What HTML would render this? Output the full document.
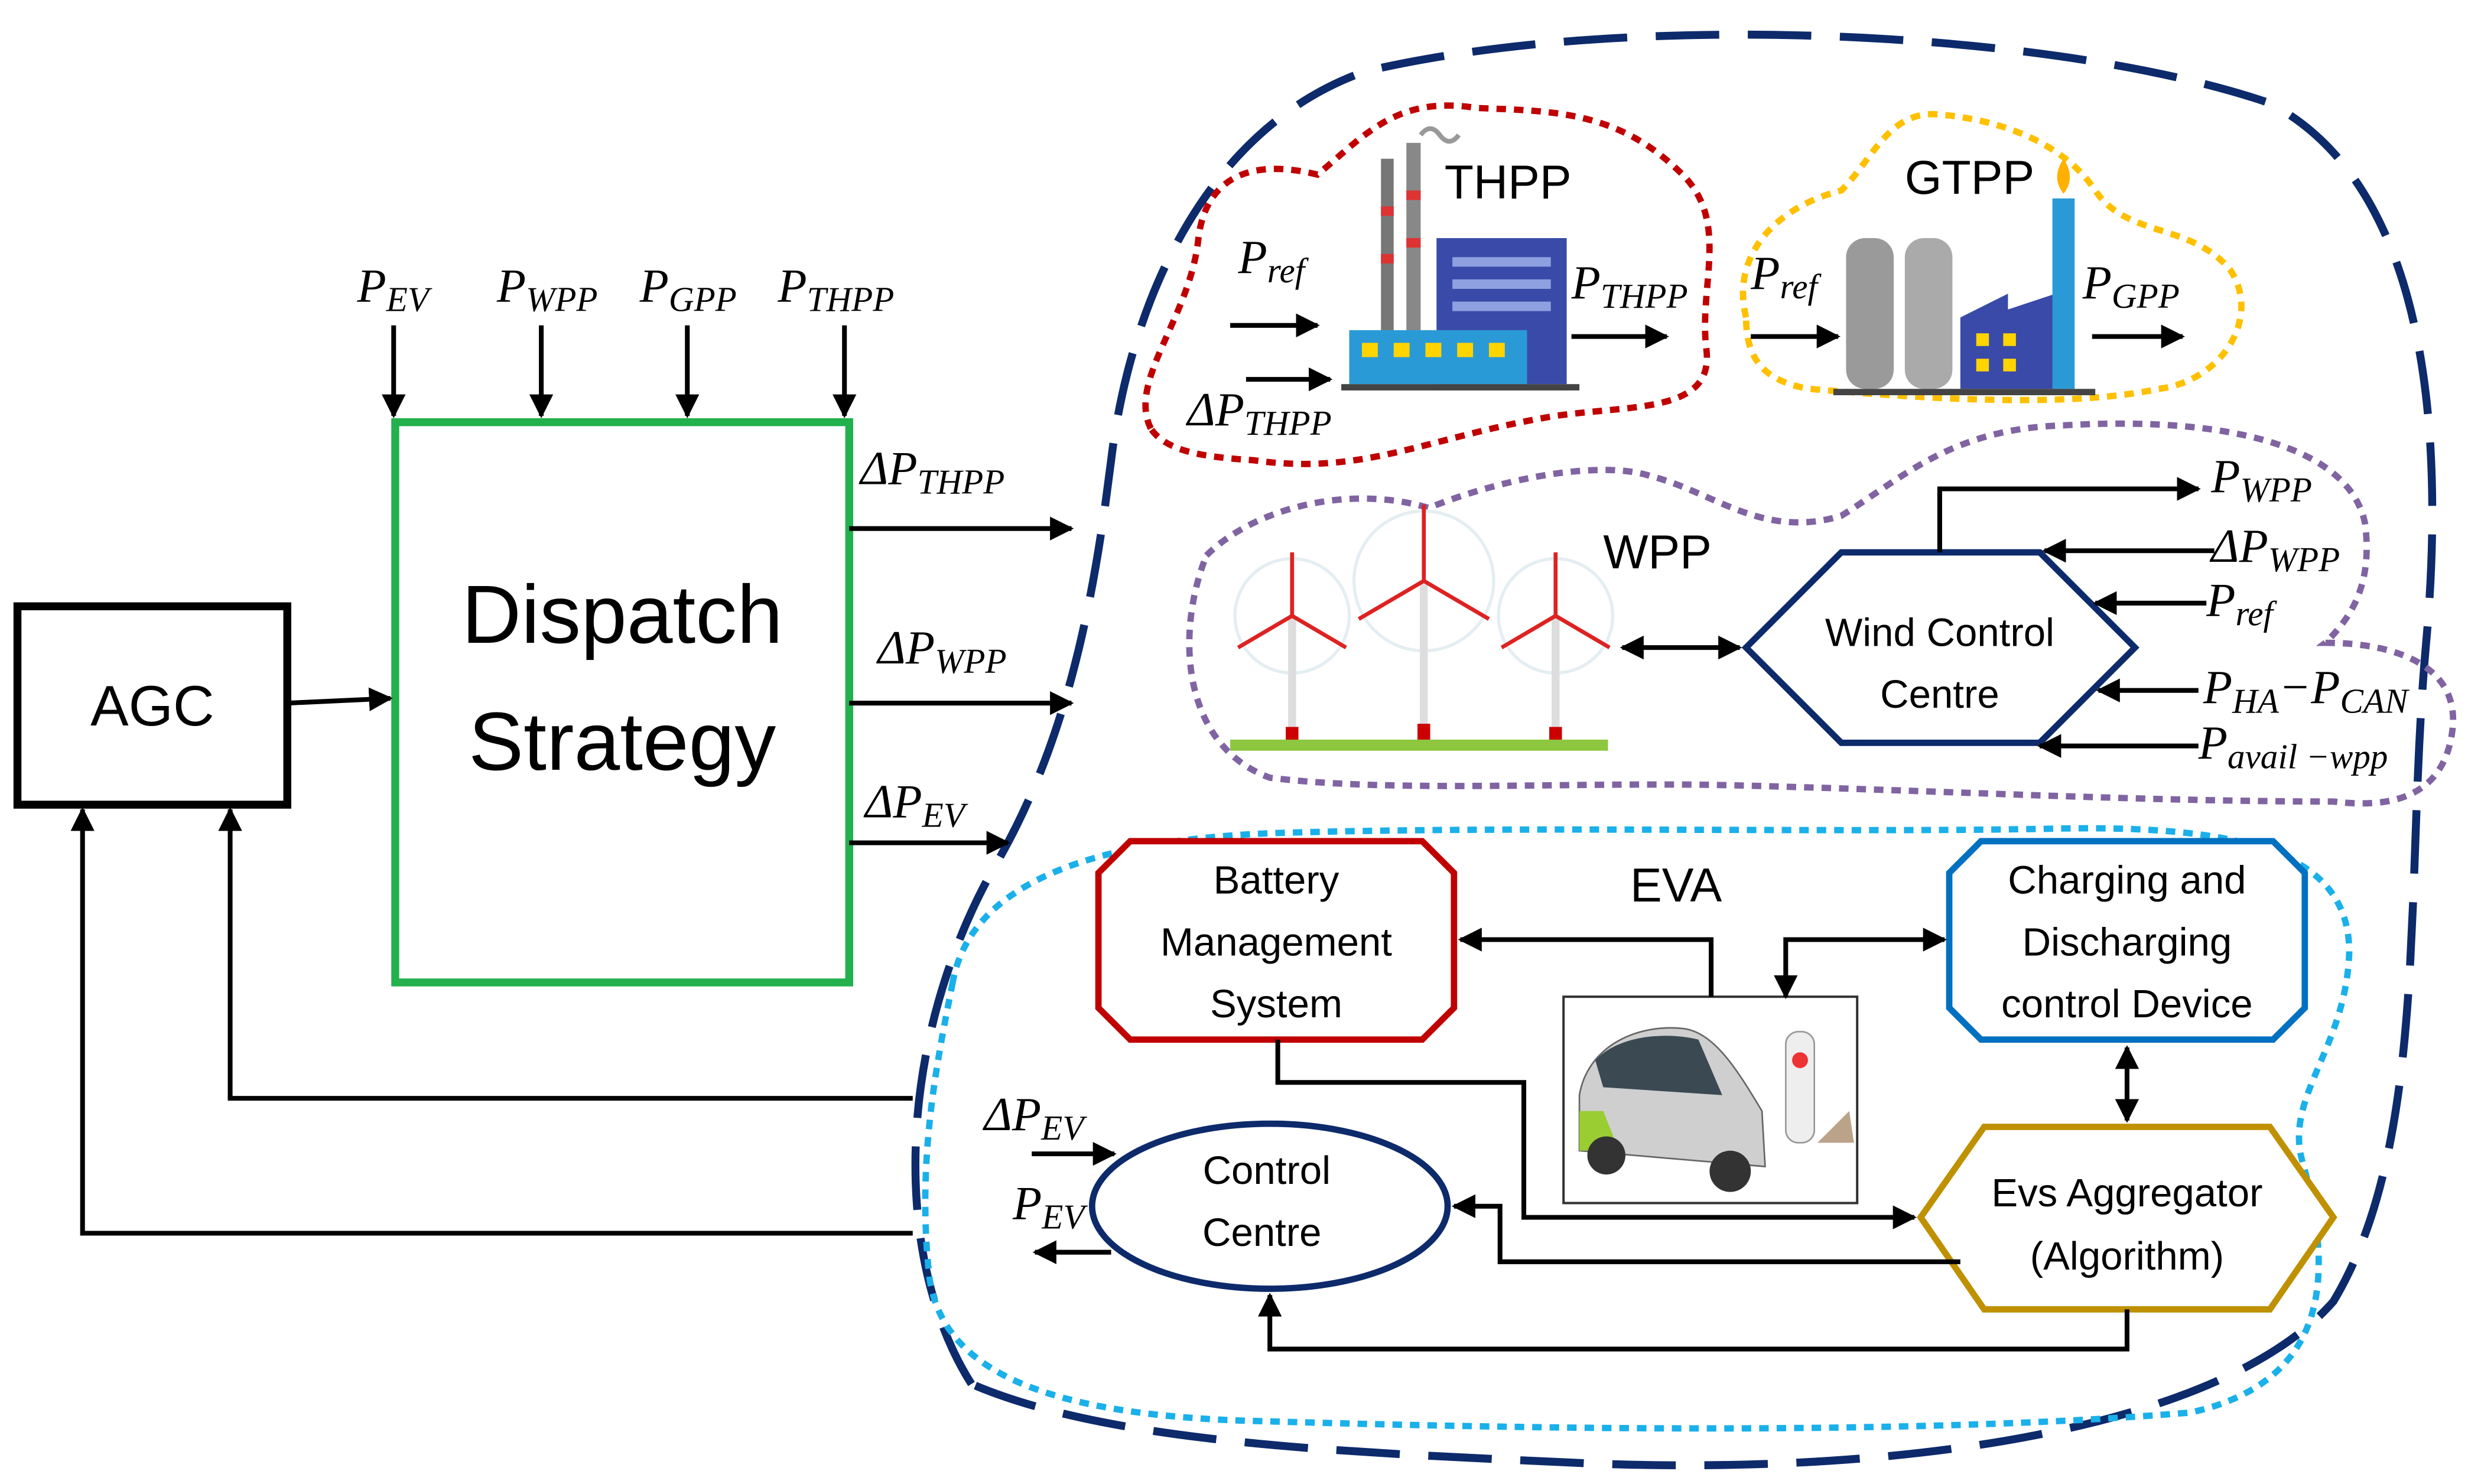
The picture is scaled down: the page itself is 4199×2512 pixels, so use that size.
<!DOCTYPE html>
<html><head><meta charset="utf-8"><style>
html,body{margin:0;padding:0;background:#fff;}
svg{display:block;}
text{font-family:"Liberation Sans",sans-serif;}
.m{font-family:"Liberation Serif",serif;font-style:italic;}
</style></head><body>
<svg width="4199" height="2512" viewBox="0 0 1563 935" xmlns="http://www.w3.org/2000/svg">
<defs>
<marker id="a" viewBox="0 0 10 10" refX="9" refY="5" markerWidth="5" markerHeight="5" orient="auto-start-reverse"><path d="M0,0 L10,5 L0,10 z" fill="#000"/></marker>
</defs>
<rect width="1563" height="935" fill="#fff"/>

<path d="M612,872 C560,790 565,650 630,540 C675,460 690,370 700,290 C712,190 760,80 860,45 C1030,5 1300,20 1430,65 C1525,115 1542,260 1528,410 C1515,560 1530,720 1470,820 C1400,900 1200,930 1000,922 C850,915 700,910 612,872 Z" fill="none" stroke="#0d2a6b" stroke-width="5" stroke-dasharray="40 18"/>

<path d="M725,270 C710,240 750,200 755,150 C760,110 790,100 830,110 C860,85 880,60 930,68 C980,70 1020,70 1060,110 C1090,140 1070,180 1075,220 C1080,260 1030,255 980,262 C900,275 860,300 790,290 C760,288 735,285 725,270 Z" fill="none" stroke="#c00000" stroke-width="4" stroke-dasharray="6 5"/>
<path d="M1100,200 C1090,160 1120,130 1160,120 C1180,100 1190,70 1220,72 C1260,75 1300,90 1320,120 C1340,150 1380,140 1405,170 C1425,200 1400,240 1360,245 C1300,258 1200,250 1140,245 C1110,240 1100,225 1100,200 Z" fill="none" stroke="#ffc000" stroke-width="4" stroke-dasharray="6 5"/>
<path d="M760,350 C790,320 850,305 900,320 C950,300 1010,290 1040,300 C1080,310 1110,340 1160,325 C1200,300 1230,270 1300,268 C1400,262 1480,280 1490,330 C1495,370 1480,390 1465,405 C1510,405 1550,420 1545,460 C1540,500 1510,510 1470,505 C1350,505 1220,498 1100,495 C1000,492 880,500 800,490 C745,470 740,400 760,350 Z" fill="none" stroke="#8064a2" stroke-width="4" stroke-dasharray="6 5"/>
<path d="M600,620 C610,560 680,530 800,525 C950,520 1150,525 1300,522 C1420,520 1480,540 1480,600 C1478,660 1440,690 1450,730 C1470,800 1470,870 1380,890 C1200,905 950,900 780,895 C650,890 590,860 585,800 C578,730 590,670 600,620 Z" fill="none" stroke="#1ab0ea" stroke-width="4" stroke-dasharray="6 5"/>

<rect x="11" y="382" width="170" height="125" fill="#fff" stroke="#000" stroke-width="5"/>
<text x="96" y="457" font-size="36" text-anchor="middle">AGC</text>
<rect x="249" y="266" width="286" height="353" fill="#fff" stroke="#22b14c" stroke-width="5"/>
<text x="392" y="405" font-size="52" text-anchor="middle">Dispatch</text>
<text x="392" y="485" font-size="52" text-anchor="middle">Strategy</text>

<g stroke="#000" stroke-width="3" fill="none" marker-end="url(#a)">
<line x1="248" y1="205" x2="248" y2="262"/>
<line x1="341" y1="205" x2="341" y2="262"/>
<line x1="433" y1="205" x2="433" y2="262"/>
<line x1="532" y1="205" x2="532" y2="262"/>
<line x1="181" y1="443" x2="246" y2="440"/>
<line x1="535" y1="333" x2="675" y2="333"/>
<line x1="535" y1="443" x2="675" y2="443"/>
<line x1="535" y1="531" x2="635" y2="531"/>
<polyline points="575,692 145,692 145,510"/>
<polyline points="575,777 52,777 52,510"/>
</g>
<g font-size="30" class="m">
<text x="225" y="190" class="m">P<tspan font-size="22" dy="6">EV</tspan></text>
<text x="313" y="190" class="m">P<tspan font-size="22" dy="6">WPP</tspan></text>
<text x="403" y="190" class="m">P<tspan font-size="22" dy="6">GPP</tspan></text>
<text x="490" y="190" class="m">P<tspan font-size="22" dy="6">THPP</tspan></text>
<text x="542" y="305" class="m">ΔP<tspan font-size="22" dy="6">THPP</tspan></text>
<text x="553" y="418" class="m">ΔP<tspan font-size="22" dy="6">WPP</tspan></text>
<text x="545" y="515" class="m">ΔP<tspan font-size="22" dy="6">EV</tspan></text>
</g>

<g>
<rect x="870" y="100" width="8" height="110" fill="#777"/><rect x="886" y="90" width="9" height="120" fill="#888"/>
<rect x="870" y="130" width="8" height="6" fill="#d33"/><rect x="886" y="120" width="9" height="6" fill="#d33"/>
<rect x="870" y="160" width="8" height="6" fill="#d33"/><rect x="886" y="150" width="9" height="6" fill="#d33"/>
<rect x="905" y="150" width="82" height="92" fill="#3a4aa8"/>
<rect x="915" y="162" width="62" height="6" fill="#8ea0e0"/><rect x="915" y="176" width="62" height="6" fill="#8ea0e0"/><rect x="915" y="190" width="62" height="6" fill="#8ea0e0"/>
<rect x="850" y="208" width="112" height="34" fill="#2a9ad6"/>
<g fill="#ffd400"><rect x="858" y="216" width="10" height="9"/><rect x="878" y="216" width="10" height="9"/><rect x="898" y="216" width="10" height="9"/><rect x="918" y="216" width="10" height="9"/><rect x="938" y="216" width="10" height="9"/></g>
<rect x="845" y="242" width="150" height="4" fill="#444"/>
<path d="M895,85 q6,-8 12,0 q6,8 12,0" stroke="#999" stroke-width="3" fill="none"/>
</g>
<text x="910" y="125" font-size="30">THPP</text>
<g>
<rect x="1163" y="150" width="30" height="95" rx="12" fill="#9a9a9a"/>
<rect x="1200" y="150" width="30" height="95" rx="12" fill="#aaa"/>
<path d="M1235,245 L1235,200 L1265,185 L1265,195 L1295,185 L1295,245 Z" fill="#3a4aa8"/>
<rect x="1293" y="125" width="14" height="120" fill="#2a9ad6"/>
<path d="M1300,100 q-8,12 0,22 q8,-10 0,-22z" fill="#ffb000"/>
<g fill="#ffd400"><rect x="1245" y="210" width="8" height="8"/><rect x="1262" y="210" width="8" height="8"/><rect x="1245" y="226" width="8" height="8"/><rect x="1262" y="226" width="8" height="8"/></g>
<rect x="1155" y="245" width="165" height="4" fill="#444"/>
</g>
<text x="1200" y="122" font-size="30">GTPP</text>
<g stroke="#000" stroke-width="3" marker-end="url(#a)">
<line x1="775" y1="205" x2="830" y2="205"/>
<line x1="785" y1="239" x2="838" y2="239"/>
<line x1="990" y1="212" x2="1050" y2="212"/>
<line x1="1103" y1="212" x2="1158" y2="212"/>
<line x1="1318" y1="212" x2="1375" y2="212"/>
</g>
<g font-size="30">
<text x="780" y="172" class="m">P<tspan font-size="22" dy="6">ref</tspan></text>
<text x="748" y="268" class="m">ΔP<tspan font-size="22" dy="6">THPP</tspan></text>
<text x="990" y="188" class="m">P<tspan font-size="22" dy="6">THPP</tspan></text>
<text x="1103" y="182" class="m">P<tspan font-size="22" dy="6">ref</tspan></text>
<text x="1312" y="188" class="m">P<tspan font-size="22" dy="6">GPP</tspan></text>
</g>

<g fill="none" stroke="#e4eef2" stroke-width="2">
<circle cx="814" cy="388" r="36"/><circle cx="897" cy="366" r="44"/><circle cx="980" cy="388" r="36"/>
</g>
<rect x="775" y="466" width="238" height="7" fill="#8dc63f"/>
<g stroke="#ddd" stroke-width="5" fill="none">
<line x1="814" y1="388" x2="814" y2="466"/><line x1="897" y1="366" x2="897" y2="466"/><line x1="980" y1="388" x2="980" y2="466"/>
</g>
<g stroke="#d22" stroke-width="2.5">
<line x1="814" y1="388" x2="814" y2="348"/><line x1="814" y1="388" x2="780" y2="408"/><line x1="814" y1="388" x2="848" y2="408"/>
<line x1="897" y1="366" x2="897" y2="318"/><line x1="897" y1="366" x2="856" y2="390"/><line x1="897" y1="366" x2="938" y2="390"/>
<line x1="980" y1="388" x2="980" y2="348"/><line x1="980" y1="388" x2="946" y2="408"/><line x1="980" y1="388" x2="1014" y2="408"/>
</g>
<g fill="#c00"><rect x="810" y="458" width="8" height="8"/><rect x="893" y="456" width="8" height="10"/><rect x="976" y="458" width="8" height="8"/></g>
<text x="1010" y="358" font-size="30">WPP</text>
<polygon points="1100,408 1160,348 1285,348 1345,408 1285,468 1160,468" fill="#fff" stroke="#0d2a6b" stroke-width="4"/>
<text x="1222" y="407" font-size="25" text-anchor="middle">Wind Control</text>
<text x="1222" y="446" font-size="25" text-anchor="middle">Centre</text>
<g stroke="#000" stroke-width="3" fill="none">
<line x1="1022" y1="408" x2="1096" y2="408" marker-start="url(#a)" marker-end="url(#a)"/>
<polyline points="1222,348 1222,308 1385,308" marker-end="url(#a)"/>
<line x1="1395" y1="347" x2="1288" y2="347" marker-end="url(#a)"/>
<line x1="1390" y1="380" x2="1320" y2="380" marker-end="url(#a)"/>
<line x1="1385" y1="435" x2="1322" y2="435" marker-end="url(#a)"/>
<line x1="1385" y1="470" x2="1285" y2="470" marker-end="url(#a)"/>
</g>
<g font-size="30">
<text x="1393" y="310" class="m">P<tspan font-size="22" dy="6">WPP</tspan></text>
<text x="1393" y="354" class="m">ΔP<tspan font-size="22" dy="6">WPP</tspan></text>
<text x="1390" y="388" class="m">P<tspan font-size="22" dy="6">ref</tspan></text>
<text x="1388" y="443" class="m">P<tspan font-size="22" dy="6">HA</tspan><tspan dy="-6">−P</tspan><tspan font-size="22" dy="6">CAN</tspan></text>
<text x="1385" y="478" class="m">P<tspan font-size="22" dy="6">avail −wpp</tspan></text>
</g>

<text x="1027" y="568" font-size="30">EVA</text>
<polygon points="712,530 896,530 916,550 916,635 896,655 712,655 692,635 692,550" fill="#fff" stroke="#c00000" stroke-width="4"/>
<text x="804" y="563" font-size="25" text-anchor="middle">Battery</text>
<text x="804" y="602" font-size="25" text-anchor="middle">Management</text>
<text x="804" y="641" font-size="25" text-anchor="middle">System</text>
<polygon points="1248,530 1432,530 1452,550 1452,635 1432,655 1248,655 1228,635 1228,550" fill="#fff" stroke="#0070c0" stroke-width="4"/>
<text x="1340" y="563" font-size="25" text-anchor="middle">Charging and</text>
<text x="1340" y="602" font-size="25" text-anchor="middle">Discharging</text>
<text x="1340" y="641" font-size="25" text-anchor="middle">control Device</text>
<polygon points="1210,767 1250,710 1430,710 1470,767 1430,825 1250,825" fill="#fff" stroke="#bf9000" stroke-width="4"/>
<text x="1340" y="760" font-size="25" text-anchor="middle">Evs Aggregator</text>
<text x="1340" y="800" font-size="25" text-anchor="middle">(Algorithm)</text>
<ellipse cx="800" cy="760" rx="112" ry="52" fill="#fff" stroke="#0d2a6b" stroke-width="4"/>
<text x="798" y="746" font-size="25" text-anchor="middle">Control</text>
<text x="795" y="785" font-size="25" text-anchor="middle">Centre</text>
<rect x="985" y="628" width="185" height="130" fill="#fff" stroke="#333" stroke-width="1.5"/>
<path d="M995,690 C1000,660 1030,645 1060,648 C1080,650 1095,675 1110,700 L1112,735 L995,725 Z" fill="#cfcfcf" stroke="#666"/>
<path d="M1005,668 C1020,652 1050,650 1070,655 L1085,690 L1010,685 Z" fill="#3b4a52"/>
<path d="M995,700 L1010,700 L1020,725 L995,725 Z" fill="#9acd32"/>
<circle cx="1012" cy="728" r="12" fill="#333"/><circle cx="1090" cy="738" r="13" fill="#333"/>
<rect x="1125" y="650" width="18" height="70" rx="8" fill="#eee" stroke="#999"/>
<circle cx="1134" cy="668" r="5" fill="#e33"/>
<path d="M1145,720 L1165,700 L1168,720 Z" fill="#bba38a"/>
<g stroke="#000" stroke-width="3" fill="none">
<polyline points="1078,628 1078,592 920,592" marker-end="url(#a)"/>
<polyline points="1125,628 1125,592 1225,592" marker-start="url(#a)" marker-end="url(#a)"/>
<line x1="1340" y1="660" x2="1340" y2="706" marker-start="url(#a)" marker-end="url(#a)"/>
<polyline points="805,655 805,682 960,682 960,767 1206,767" marker-end="url(#a)"/>
<polyline points="1235,795 945,795 945,760 916,760" marker-end="url(#a)"/>
<polyline points="1340,825 1340,850 800,850 800,816" marker-end="url(#a)"/>
<line x1="650" y1="727" x2="702" y2="727" marker-end="url(#a)"/>
<line x1="700" y1="789" x2="652" y2="789" marker-end="url(#a)"/>
</g>
<g font-size="30">
<text x="620" y="712" class="m">ΔP<tspan font-size="22" dy="6">EV</tspan></text>
<text x="638" y="768" class="m">P<tspan font-size="22" dy="6">EV</tspan></text>
</g>
</svg>
</body></html>
